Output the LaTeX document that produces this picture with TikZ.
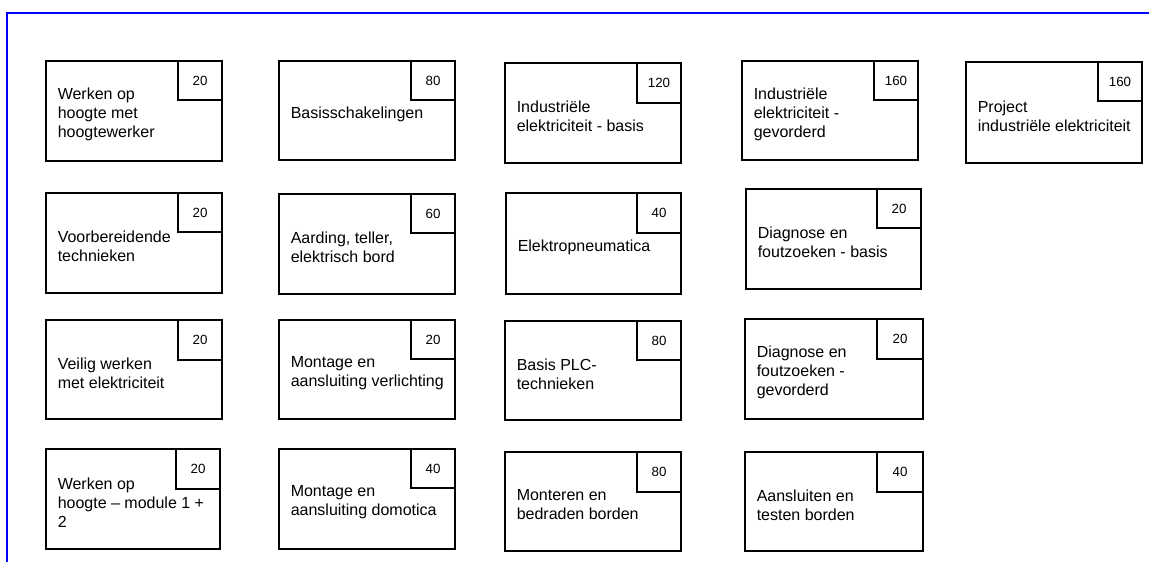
\documentclass[tikz,border=0pt]{standalone}
\usepackage{fontspec}
\setmainfont{Liberation Sans}
\newcommand{\modbox}[9]{%
  \node[modrect, minimum width={(#4-#2)*0.75pt}, minimum height={(#5-#3)*0.75pt}] (#1) at (#2,#3) {};
  \node[numrect, minimum width={(#4-#6)*0.75pt}, minimum height={(#7-#3)*0.75pt}] (#1n) at (#4,#3) {#9};
  \node[modtext] (#1t) at ({#2+11.5},{(#3+#5)/2+3.5}) {#8};
}
\tikzset{
  modrect/.style={draw=black, line width=1.3pt, anchor=north west, inner sep=0pt, outer sep=0pt, fill=white},
  numrect/.style={draw=black, line width=1.3pt, anchor=north east, inner sep=0pt, outer sep=0pt, font=\fontsize{10pt}{12pt}\selectfont},
  modtext/.style={anchor=west, align=left, inner sep=0pt, font=\fontsize{12pt}{14.2pt}\selectfont},
  frame/.style={draw=blue, line width=1.3pt}
}
\begin{document}
\begin{tikzpicture}[x=0.75pt, y=-0.75pt]
\useasboundingbox (0,0) rectangle (1149,562);
\fill[white] (0,0) rectangle (1149,562);
\draw[frame] (7,562) -- (7,12.7) -- (1149,12.7);
% row 1
\modbox{a1}{46}{61}{222}{161}{178}{100}{Werken op\\hoogte met\\hoogtewerker}{20}
\modbox{a2}{279}{61}{455}{160}{411}{100}{Basisschakelingen}{80}
\modbox{a3}{505}{63}{681}{163}{637}{103}{Industriële\\elektriciteit - basis}{120}
\modbox{a4}{742}{61}{918}{160}{874}{100}{Industriële\\elektriciteit -\\gevorderd}{160}
\modbox{a5}{966}{62}{1142}{163}{1098}{101}{Project\\industriële elektriciteit}{160}
% row 2
\modbox{b1}{46}{193}{222}{293}{178}{232}{Voorbereidende\\technieken}{20}
\modbox{b2}{279}{194}{455}{294}{411}{233}{Aarding, teller,\\elektrisch bord}{60}
\modbox{b3}{506}{193}{681}{294}{637}{233}{Elektropneumatica}{40}
\modbox{b4}{746}{189}{921}{289}{877}{228}{Diagnose en\\foutzoeken - basis}{20}
% row 3
\modbox{c1}{46}{320}{222}{419}{178}{360}{Veilig werken\\met elektriciteit}{20}
\modbox{c2}{279}{320}{455}{419}{411}{359}{Montage en\\aansluiting verlichting}{20}
\modbox{c3}{505}{321}{681}{420}{637}{360}{Basis PLC-\\technieken}{80}
\modbox{c4}{745}{319}{923}{419}{877}{359}{Diagnose en\\foutzoeken -\\gevorderd}{20}
% row 4
\modbox{d1}{46}{449}{220}{549}{176}{489}{Werken op\\hoogte – module 1 +\\2}{20}
\modbox{d2}{279}{449}{455}{549}{411}{488}{Montage en\\aansluiting domotica}{40}
\modbox{d3}{505}{452}{681}{551}{637}{492}{Monteren en\\bedraden borden}{80}
\modbox{d4}{745}{452}{923}{551}{877}{492}{Aansluiten en\\testen borden}{40}
\end{tikzpicture}
\end{document}
